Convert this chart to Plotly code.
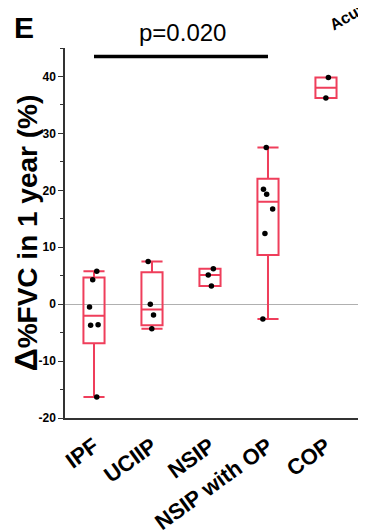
import numpy as np
import plotly.graph_objects as go

categories = ["IPF", "UCIIP", "NSIP", "NSIP with OP", "COP"]
ipf = [5.8, 4.3, -0.5, -3.6, -3.7, -16.3]
uciip = [7.5, 0.0, -1.9, -4.3]
nsip = [6.2, 5.1, 3.2]
nsip_op = [27.5, 20.2, 19.3, 16.7, 12.4, -2.6]
cop = [39.8, 36.2]
p_text = "p=0.020"
y_title = '<span style="font-size:32px">Δ</span>%FVC in 1 year (%)\u00a0\u00a0\u00a0'

groups = [ipf, uciip, nsip, nsip_op, cop]
q1 = [float(np.percentile(g, 25, method="weibull")) for g in groups]
med = [float(np.median(g)) for g in groups]
q3 = [float(np.percentile(g, 75, method="weibull")) for g in groups]
lo = [min(g) for g in groups]
hi = [max(g) for g in groups]

RED = "#EF3E5B"
FONT = "Arial, Liberation Sans, sans-serif"

fig = go.Figure()
fig.add_trace(go.Box(
    x=categories, q1=q1, median=med, q3=q3, lowerfence=lo, upperfence=hi,
    y=groups,
    boxpoints="all", jitter=0.5, pointpos=0,
    fillcolor="rgba(255,255,255,0)",
    line=dict(color=RED, width=2),
    whiskerwidth=1,
    marker=dict(color="black", size=5.5),
    showlegend=False,
))

fig.add_shape(type="line", xref="x", yref="y", x0=0, x1=3, y0=43.5, y1=43.5,
              line=dict(color="black", width=3.5))

fig.add_annotation(text=p_text, xref="paper", yref="paper", x=0.392, y=1.0,
                   yanchor="bottom", xanchor="center", showarrow=False,
                   font=dict(size=24, color="black", family=FONT), yshift=0)
fig.add_annotation(text="<b>E</b>", xref="paper", yref="paper", x=-0.175, y=1.105,
                   xanchor="left", yanchor="top", showarrow=False,
                   font=dict(size=30, color="black", family=FONT))
fig.add_annotation(text="<b>Acute</b>", xref="paper", yref="paper", x=0.95, y=1.09,
                   xanchor="center", yanchor="middle", showarrow=False, textangle=-30,
                   font=dict(size=16, color="black", family=FONT))

fig.update_layout(
    width=358, height=522,
    margin=dict(l=57, r=0, t=40, b=112),
    plot_bgcolor="white", paper_bgcolor="white",
    font=dict(family=FONT, color="black"),
    boxgap=0.48,
    xaxis=dict(
        type="category", categoryorder="array", categoryarray=categories,
        range=[-0.5, 4.69], automargin=False,
        showline=True, linecolor="#333", linewidth=1.5,
        ticks="", tickangle=-36, ticklabelstandoff=5,
        tickfont=dict(size=22, weight="bold"),
        showgrid=False, zeroline=False,
    ),
    yaxis=dict(
        range=[-20, 45], tickvals=[-20, -10, 0, 10, 20, 30, 40],
        ticktext=["-20", "-10", "0", "10", "20", "30", "40"],
        automargin=False,
        showline=True, linecolor="#333", linewidth=1.5,
        ticks="outside", ticklen=5, tickwidth=1, tickcolor="#333",
        minor=dict(tickvals=[-15, -5, 5, 15, 25, 35, 45], ticks="outside", ticklen=3, tickcolor="#333"),
        tickfont=dict(size=12, weight="bold"),
        showgrid=False,
        zeroline=True, zerolinecolor="#B0B0B0", zerolinewidth=1,
        title=dict(text=y_title, font=dict(size=28, weight="bold"), standoff=2),
    ),
)

fig.write_html("out.html")
